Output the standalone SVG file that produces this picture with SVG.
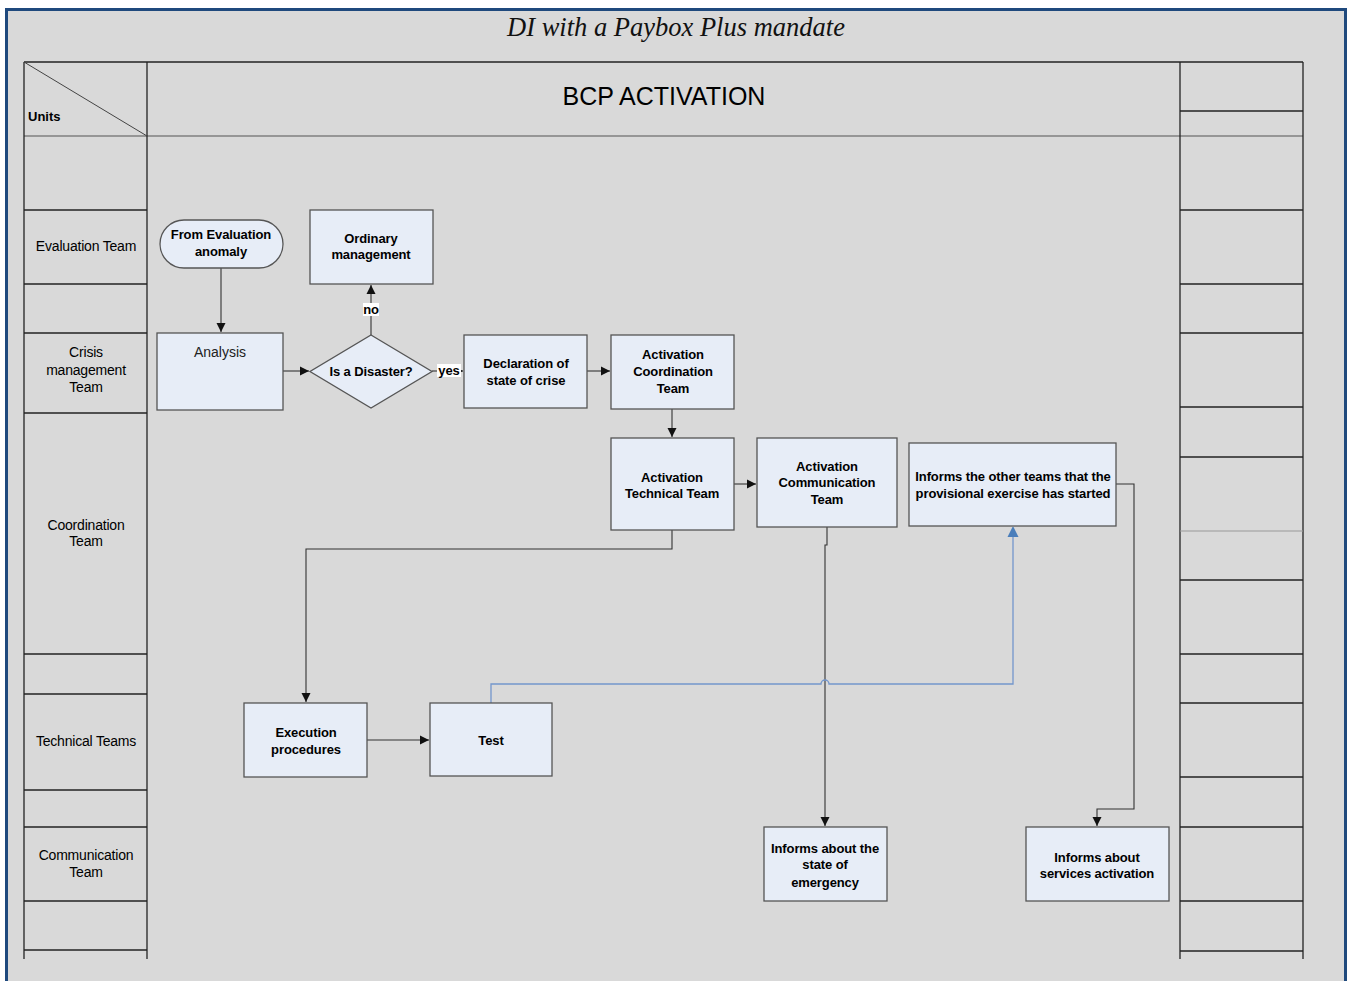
<svg xmlns="http://www.w3.org/2000/svg" width="1348" height="981" viewBox="0 0 1348 981">
<defs>
<style>
.grid{stroke:#222;stroke-width:1.3;fill:none}
.gl{stroke:#555;stroke-width:1.2;fill:none}
.box{fill:#e7edf7;stroke:#555;stroke-width:1.3}
.lane{font-family:"Liberation Sans",Arial,sans-serif;font-size:14px;letter-spacing:-0.2px;fill:#000;text-anchor:middle}
.bt{font-family:"Liberation Sans",Arial,sans-serif;font-size:13px;font-weight:bold;letter-spacing:-0.1px;fill:#000;text-anchor:middle}
.rt{font-family:"Liberation Sans",Arial,sans-serif;font-size:14px;fill:#222;text-anchor:middle}
.con{stroke:#333;stroke-width:1.1;fill:none}
.blue{stroke:#7396cc;stroke-width:1.3;fill:none}
</style>
<marker id="ar" markerWidth="10" markerHeight="10" refX="9" refY="5" orient="auto" markerUnits="userSpaceOnUse"><path d="M0,0.5 L9,5 L0,9.5 Z" fill="#111"/></marker>
<marker id="ab" markerWidth="10" markerHeight="12" refX="9" refY="6" orient="auto" markerUnits="userSpaceOnUse"><path d="M0,0.5 L11,6 L0,11.5 Z" fill="#4a7ebb"/></marker>
</defs>
<rect x="0" y="0" width="1348" height="981" fill="#fff"/>
<rect x="6.5" y="9.5" width="1339" height="980" fill="#d9d9d9" stroke="#1f497d" stroke-width="3"/>
<text x="676" y="36" font-family="Liberation Serif,'Times New Roman',serif" font-style="italic" font-size="26.5" text-anchor="middle" fill="#111">DI with a Paybox Plus mandate</text>

<g id="grid">
<line class="grid" x1="24" y1="62" x2="1303" y2="62"/>
<line class="gl" x1="24" y1="136" x2="1303" y2="136"/>
<line class="grid" x1="24" y1="62" x2="24" y2="959"/>
<line class="grid" x1="147" y1="62" x2="147" y2="959"/>
<line class="grid" x1="1180" y1="62" x2="1180" y2="959"/>
<line class="grid" x1="1303" y1="62" x2="1303" y2="959"/>
<line x1="24" y1="62" x2="147" y2="136" stroke="#444" stroke-width="1"/>
<g class="grid">
<line x1="24" y1="210" x2="147" y2="210"/>
<line x1="24" y1="284" x2="147" y2="284"/>
<line x1="24" y1="333" x2="147" y2="333"/>
<line x1="24" y1="413" x2="147" y2="413"/>
<line x1="24" y1="654" x2="147" y2="654"/>
<line x1="24" y1="694" x2="147" y2="694"/>
<line x1="24" y1="790" x2="147" y2="790"/>
<line x1="24" y1="827" x2="147" y2="827"/>
<line x1="24" y1="901" x2="147" y2="901"/>
<line x1="24" y1="950" x2="147" y2="950"/>
<line x1="1180" y1="111" x2="1303" y2="111"/>
<line x1="1180" y1="210" x2="1303" y2="210"/>
<line x1="1180" y1="284" x2="1303" y2="284"/>
<line x1="1180" y1="333" x2="1303" y2="333"/>
<line x1="1180" y1="407" x2="1303" y2="407"/>
<line x1="1180" y1="457" x2="1303" y2="457"/>
<line x1="1180" y1="580" x2="1303" y2="580"/>
<line x1="1180" y1="654" x2="1303" y2="654"/>
<line x1="1180" y1="703" x2="1303" y2="703"/>
<line x1="1180" y1="777" x2="1303" y2="777"/>
<line x1="1180" y1="827" x2="1303" y2="827"/>
<line x1="1180" y1="901" x2="1303" y2="901"/>
<line x1="1180" y1="951" x2="1303" y2="951"/>
</g>
<line x1="1180" y1="531" x2="1303" y2="531" stroke="#999" stroke-width="1.2"/>
<text x="28" y="121" font-family="Liberation Sans,Arial,sans-serif" font-size="13" font-weight="bold" fill="#000">Units</text>
<text x="664" y="105" font-family="Liberation Sans,Arial,sans-serif" font-size="25" text-anchor="middle" fill="#000">BCP ACTIVATION</text>
<text class="lane" x="86" y="251">Evaluation Team</text>
<text class="lane" x="86" y="357">Crisis</text>
<text class="lane" x="86" y="375">management</text>
<text class="lane" x="86" y="392">Team</text>
<text class="lane" x="86" y="530">Coordination</text>
<text class="lane" x="86" y="546">Team</text>
<text class="lane" x="86" y="746">Technical Teams</text>
<text class="lane" x="86" y="860">Communication</text>
<text class="lane" x="86" y="877">Team</text>
</g>

<g id="connectors">
<path class="con" d="M221,268 V332" marker-end="url(#ar)"/>
<path class="con" d="M283,371 H309" marker-end="url(#ar)"/>
<path class="con" d="M371,335 V285" marker-end="url(#ar)"/>
<path class="con" d="M432,371 H463" marker-end="url(#ar)"/>
<path class="con" d="M587,371 H610" marker-end="url(#ar)"/>
<path class="con" d="M672,409 V437" marker-end="url(#ar)"/>
<path class="con" d="M734,484 H756" marker-end="url(#ar)"/>
<path class="con" d="M672,530 V549 H306 V702" marker-end="url(#ar)"/>
<path class="con" d="M367,740 H429" marker-end="url(#ar)"/>
<path class="con" d="M827,527 V545 H825 V826" marker-end="url(#ar)"/>
<path class="con" d="M1116,484 H1134 V809 H1097 V826" marker-end="url(#ar)"/>
<path class="blue" d="M491,703 V684 H821 A4,4 0 0 1 829,684 H1013 V528" marker-end="url(#ab)"/>
<rect x="363" y="303" width="16" height="13" fill="#fff"/>
<text class="bt" x="371" y="314">no</text>
<rect x="437" y="364" width="24" height="13" fill="#fff"/>
<text class="bt" x="449" y="375">yes</text>
</g>

<g id="n-from-eval"><rect class="box" x="160" y="220" width="123" height="48" rx="24"/><text class="bt" x="221" y="239">From Evaluation</text><text class="bt" x="221" y="256">anomaly</text></g>
<g id="n-ordinary"><rect class="box" x="310" y="210" width="123" height="74"/><text class="bt" x="371" y="243">Ordinary</text><text class="bt" x="371" y="259">management</text></g>
<g id="n-analysis"><rect class="box" x="157" y="333" width="126" height="77"/><text class="rt" x="220" y="357">Analysis</text></g>
<g id="n-disaster"><polygon class="box" points="371,335 432,371.5 371,408 310,371.5"/><text class="bt" x="371" y="376">Is a Disaster?</text></g>
<g id="n-declaration"><rect class="box" x="464" y="335" width="123" height="73"/><text class="bt" x="526" y="368">Declaration of</text><text class="bt" x="526" y="385">state of crise</text></g>
<g id="n-act-coord"><rect class="box" x="611" y="335" width="123" height="74"/><text class="bt" x="673" y="359">Activation</text><text class="bt" x="673" y="376">Coordination</text><text class="bt" x="673" y="393">Team</text></g>
<g id="n-act-tech"><rect class="box" x="611" y="438" width="123" height="92"/><text class="bt" x="672" y="482">Activation</text><text class="bt" x="672" y="498">Technical Team</text></g>
<g id="n-act-comm"><rect class="box" x="757" y="438" width="140" height="89"/><text class="bt" x="827" y="471">Activation</text><text class="bt" x="827" y="487">Communication</text><text class="bt" x="827" y="504">Team</text></g>
<g id="n-informs-other"><rect class="box" x="909" y="443" width="207" height="83"/><text class="bt" x="1013" y="481">Informs the other teams that the</text><text class="bt" x="1013" y="498">provisional exercise has started</text></g>
<g id="n-execution"><rect class="box" x="244" y="703" width="123" height="74"/><text class="bt" x="306" y="737">Execution</text><text class="bt" x="306" y="754">procedures</text></g>
<g id="n-test"><rect class="box" x="430" y="703" width="122" height="73"/><text class="bt" x="491" y="745">Test</text></g>
<g id="n-informs-state"><rect class="box" x="764" y="827" width="123" height="74"/><text class="bt" x="825" y="853">Informs about the</text><text class="bt" x="825" y="869">state of</text><text class="bt" x="825" y="887">emergency</text></g>
<g id="n-informs-services"><rect class="box" x="1026" y="827" width="143" height="74"/><text class="bt" x="1097" y="862">Informs about</text><text class="bt" x="1097" y="878">services activation</text></g>
</svg>
